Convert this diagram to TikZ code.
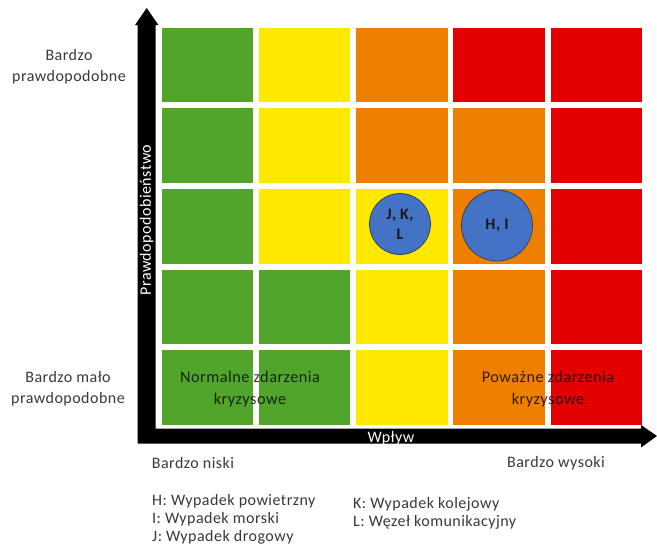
\documentclass[tikz,border=0pt]{standalone}
\usepackage{fontspec}
\setmainfont{Carlito}[LetterSpace=3]
\definecolor{rgreen}{HTML}{52A52B}
\definecolor{ryellow}{HTML}{FFE800}
\definecolor{rorange}{HTML}{EE7F00}
\definecolor{rred}{HTML}{E30000}
\definecolor{bubble}{HTML}{4472C4}
\definecolor{bubbleedge}{HTML}{34445F}
\definecolor{labelgray}{HTML}{383838}
\tikzset{
  axislabel/.style={font=\fontsize{16}{21}\selectfont, text=labelgray, align=center, inner sep=0pt},
  legendtext/.style={font=\fontsize{16}{18}\selectfont, text=labelgray, anchor=west, inner sep=0pt},
  zonetext/.style={font=\fontsize{16.3}{22}\selectfont, text=black, text opacity=0.78, align=center, inner sep=0pt},
  bubblenode/.style={circle, fill=bubble, draw=bubbleedge, line width=0.8pt, inner sep=0pt, align=center,
    font=\bfseries\fontsize{16}{20}\selectfont, text=black!90},
  axistext/.style={font=\fontsize{16}{18}\selectfont, text=white, inner sep=0pt}
}
\begin{document}
\begin{tikzpicture}[x=1pt,y=-1pt]
\useasboundingbox (0,0) rectangle (657,557);

% risk matrix, rows from top (very likely) to bottom (very unlikely)
\foreach \rowcolors [count=\j from 0] in {
    {rgreen,ryellow,rorange,rred,rred},
    {rgreen,ryellow,rorange,rorange,rred},
    {rgreen,ryellow,ryellow,rorange,rred},
    {rgreen,rgreen,ryellow,rorange,rred},
    {rgreen,rgreen,ryellow,rorange,rred}}
  \foreach \c [count=\i from 0] in \rowcolors
    \fill[\c] ({161.5+97.3*\i},{27.7+80.6*\j}) rectangle ++(91.5,74.6);

% axes
\fill[black] (137.7,443.5) -- (137.7,25) -- (135,25) -- (146.7,8) -- (158.4,25)
  -- (155.7,25) -- (155.7,428.5) -- (641,428.5) -- (641,425) -- (657,436)
  -- (641,447.5) -- (641,443.5) -- cycle;

\node[axistext, rotate=90] (yax) at (146.5,220) {Prawdopodobieństwo};
\node[axistext] (xax) at (391,438) {Wpływ};

% scale labels
\node[axislabel] (ptop) at (69,67) {Bardzo\\prawdopodobne};
\node[axislabel] (pbot) at (68,389) {Bardzo mało\\prawdopodobne};
\node[axislabel] (ilow) at (193,463) {Bardzo niski};
\node[axislabel] (ihigh) at (556,463) {Bardzo wysoki};

% zone captions
\node[zonetext] (normal) at (250,389) {Normalne zdarzenia\\kryzysowe};
\node[zonetext] (serious) at (548,389) {Poważne zdarzenia\\kryzysowe};

% events
\node[bubblenode, minimum size=61pt] (jkl) at (400,224) {J, K,\\L};
\node[bubblenode, minimum size=71pt] (hi) at (497,225.5) {\raisebox{-3pt}{H, I}};

% legend
\node[legendtext] (lh) at (152,501) {H: Wypadek powietrzny};
\node[legendtext] (li) at (152,519.5) {I: Wypadek morski};
\node[legendtext] (lj) at (152,537.5) {J: Wypadek drogowy};
\node[legendtext] (lk) at (353,504.5) {K: Wypadek kolejowy};
\node[legendtext] (ll) at (353,522.5) {L: Węzeł komunikacyjny};
\end{tikzpicture}
\end{document}
